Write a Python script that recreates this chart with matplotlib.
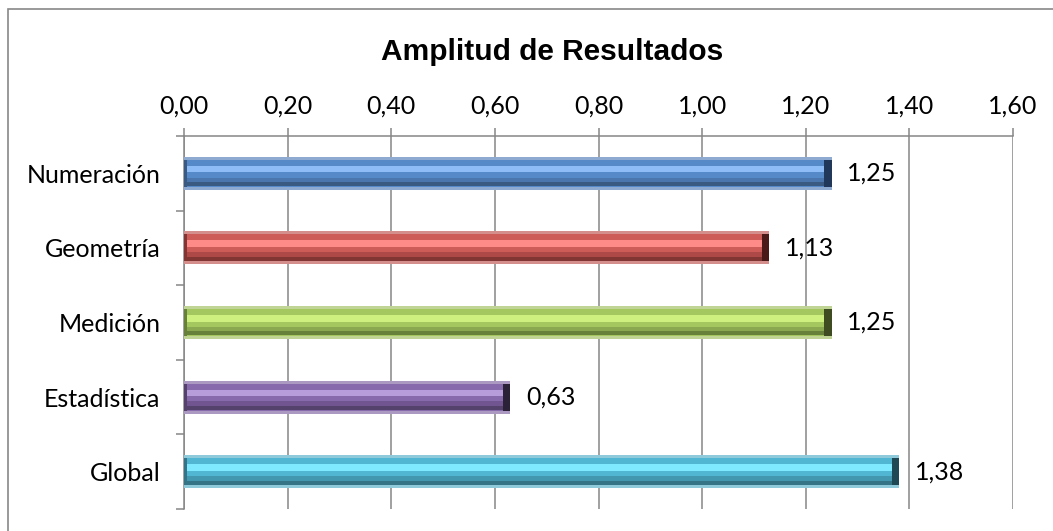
import matplotlib
matplotlib.use("Agg")
import matplotlib.pyplot as plt
from matplotlib.patches import Rectangle
from matplotlib.ticker import FixedLocator, FuncFormatter

# datos
categorias = ["Numeración", "Geometría", "Medición", "Estadística", "Global"]
valores = [1.25, 1.13, 1.25, 0.63, 1.38]
titulo = "Amplitud de Resultados"
ticks_x = [0.0, 0.2, 0.4, 0.6, 0.8, 1.0, 1.2, 1.4, 1.6]

# colores por barra: (borde claro, base, brillo, medio oscuro, oscuro, tapa)
colores = [
    ("#8eaad0", "#5689c8", "#8dbcf6", "#4a76ad", "#3b5a82", "#22385a"),
    ("#d48f8d", "#cd5b58", "#ff8b88", "#ad4a47", "#823634", "#4a1a19"),
    ("#c0d496", "#a5c75f", "#cdf07e", "#8aa84f", "#67803a", "#3f4c22"),
    ("#ab99c2", "#876aab", "#b89ddb", "#705590", "#54426c", "#2c2238"),
    ("#8fcadb", "#50b6d2", "#7fe9ff", "#4398b0", "#347486", "#1d4854"),
]

plt.rcParams["font.family"] = ["Lato", "DejaVu Sans"]
gris = "#868686"

fig = plt.figure(figsize=(10.53, 5.31), dpi=100)
ax = fig.add_axes([184 / 1053, 22 / 531, 829 / 1053, 373 / 531])

y = list(range(len(categorias)))
h = 0.44
for i, v in enumerate(valores):
    borde, base, brillo, medio, oscuro, tapa = colores[i]
    ax.barh(y[i], v, height=h, color=borde, zorder=3)
    ax.barh(y[i], v, height=h * 0.82, color=base, zorder=4)
    ax.barh(y[i] - h * 0.13, v - 0.015, left=0.006, height=h * 0.20, color=brillo, zorder=5)
    ax.barh(y[i] + h * 0.20, v, height=h * 0.14, color=medio, zorder=5)
    ax.barh(y[i] + h * 0.33, v, height=h * 0.12, color=oscuro, zorder=5)
    ax.barh(y[i], 0.014, left=v - 0.014, height=h * 0.82, color=tapa, zorder=6)
    ax.barh(y[i], 0.006, left=0, height=h * 0.82, color=oscuro, zorder=6)
    ax.text(v + 0.03, y[i], f"{v:.2f}".replace(".", ","), va="center",
            ha="left", fontsize=18, color="black", zorder=7)

ax.set_xlim(0, 1.6)
ax.set_ylim(len(categorias) - 0.5, -0.5)

# eje x arriba
ax.xaxis.tick_top()
ax.set_xticks(ticks_x)
ax.xaxis.set_major_formatter(FuncFormatter(lambda x, p: f"{x:.2f}".replace(".", ",")))
ax.tick_params(axis="x", which="major", direction="out", length=6, width=1.1,
               color=gris, labelsize=18, pad=7)
ax.grid(axis="x", color=gris, linewidth=1.1, zorder=0)

# eje y con marcas entre categorias
ax.set_yticks(y)
ax.set_yticklabels(categorias)
ax.yaxis.set_minor_locator(FixedLocator([i - 0.5 for i in range(len(categorias) + 1)]))
ax.tick_params(axis="y", which="major", length=0, labelsize=18, pad=17)
ax.tick_params(axis="y", which="minor", direction="out", length=6, width=1.1, color=gris)

for lado in ["right", "bottom"]:
    ax.spines[lado].set_visible(False)
for lado in ["left", "top"]:
    ax.spines[lado].set_color(gris)
    ax.spines[lado].set_linewidth(1.1)

fig.text(552 / 1053, 1 - 52 / 531, titulo, ha="center", va="center",
         fontsize=21.5, fontweight="bold", family="Liberation Sans")

# marco exterior del grafico
fig.patches.append(Rectangle((8 / 1053, -0.1), 1.2, 1.1 - 9 / 531,
                             transform=fig.transFigure, fill=False,
                             edgecolor="#888888", linewidth=1.2))

fig.savefig("out.png", dpi=100)
